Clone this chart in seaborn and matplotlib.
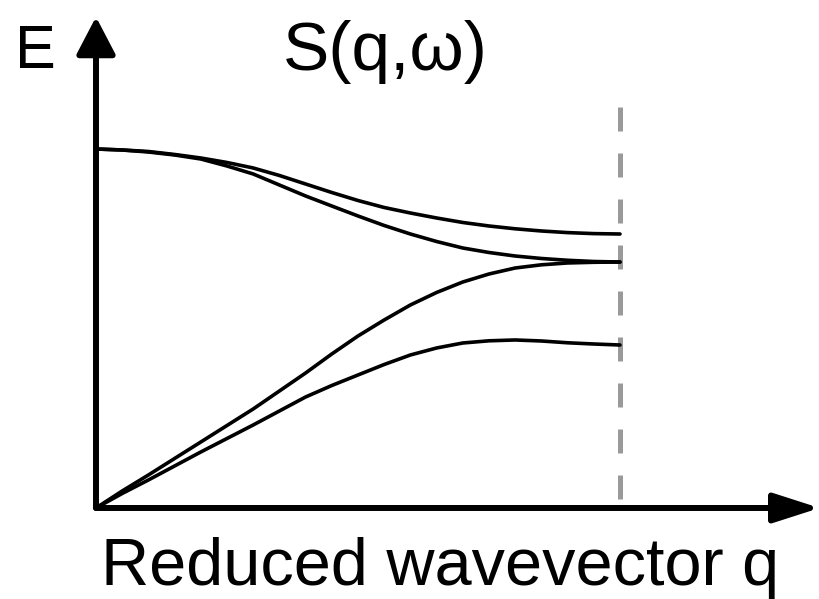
import numpy as np
import pandas as pd
import matplotlib.pyplot as plt
import seaborn as sns
from matplotlib.patches import FancyArrowPatch

# reduced wavevector (0 = zone centre, 1 = zone boundary)
q = [0.00, 0.05, 0.10, 0.15, 0.20, 0.25, 0.30, 0.35, 0.40, 0.45, 0.50,
     0.55, 0.60, 0.65, 0.70, 0.75, 0.80, 0.85, 0.90, 0.95, 1.00]

# energies (arbitrary units)
optic_upper = [1.0000, 0.9972, 0.9930, 0.9847, 0.9749, 0.9624, 0.9471, 0.9262, 0.9025, 0.8788, 0.8565,
               0.8370, 0.8217, 0.8078, 0.7953, 0.7855, 0.7777, 0.7716, 0.7671, 0.7643, 0.7632]
optic_lower = [1.0000, 0.9972, 0.9916, 0.9833, 0.9721, 0.9526, 0.9304, 0.8997, 0.8691, 0.8412, 0.8134,
               0.7869, 0.7632, 0.7423, 0.7242, 0.7117, 0.7019, 0.6950, 0.6900, 0.6866, 0.6852]
acoustic_upper = [0.0000, 0.0474, 0.0919, 0.1379, 0.1838, 0.2298, 0.2758, 0.3259, 0.3760, 0.4290, 0.4791,
                  0.5237, 0.5655, 0.6003, 0.6295, 0.6518, 0.6685, 0.6774, 0.6825, 0.6844, 0.6852]
acoustic_lower = [0.0000, 0.0404, 0.0780, 0.1170, 0.1560, 0.1936, 0.2312, 0.2702, 0.3092, 0.3412, 0.3705,
                  0.3997, 0.4262, 0.4457, 0.4596, 0.4657, 0.4680, 0.4652, 0.4602, 0.4568, 0.4540]

branches = {
    "optic 1": optic_upper,
    "optic 2": optic_lower,
    "acoustic 1": acoustic_upper,
    "acoustic 2": acoustic_lower,
}

df = pd.concat(
    [pd.DataFrame({"q": q, "E": e, "branch": name}) for name, e in branches.items()],
    ignore_index=True,
)

sns.set_style("white")
plt.rcParams["font.family"] = ["Liberation Sans", "DejaVu Sans"]
plt.rcParams["text.color"] = "black"

fig = plt.figure(figsize=(8.2, 5.99), dpi=100)
ax = fig.add_axes([0, 0, 1, 1])

sns.lineplot(
    data=df, x="q", y="E", hue="branch", units="branch", estimator=None,
    palette=["black"] * 4, linewidth=2.6, legend=False, ax=ax,
)
for line in ax.lines:
    line.set_solid_joinstyle("round")

# zone boundary
ax.plot([1.0, 1.0], [0.025, 1.131], color="#9a9a9a", linewidth=3.6,
        linestyle=(0, (4.8, 4.4)), zorder=1)

# axes with arrow heads
ax.add_patch(FancyArrowPatch((0, 0), (0, 1.368), arrowstyle="-|>,head_length=23,head_width=12",
                             mutation_scale=1, color="black", linewidth=4.3, shrinkA=0, shrinkB=0))
ax.add_patch(FancyArrowPatch((0, 0), (1.381, 0), arrowstyle="-|>,head_length=28,head_width=9",
                             mutation_scale=1, color="black", linewidth=4.3, shrinkA=0, shrinkB=0))

ax.set_xlim(-0.1832, 1.3817)
ax.set_ylim(-0.2535, 1.415)
ax.set_axis_off()

fig.text(0.0427, 0.8865, "E", fontsize=44, ha="center", va="baseline")
fig.text(0.4695, 0.883, "S(q,ω)", fontsize=50, ha="center", va="baseline")
fig.text(0.5366, 0.0234, "Reduced wavevector q", fontsize=48, ha="center", va="baseline")

fig.savefig("out.png", dpi=100)
plt.close(fig)
